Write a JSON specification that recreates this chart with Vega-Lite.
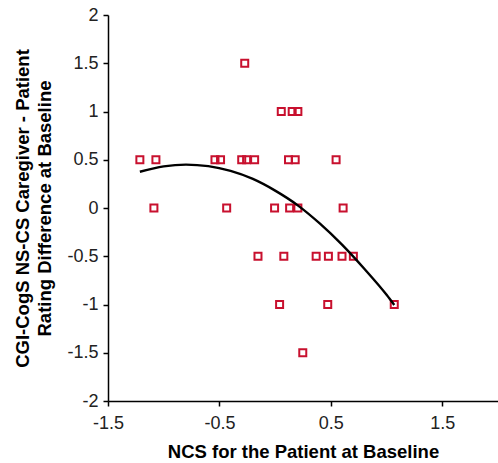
{
  "$schema": "https://vega.github.io/schema/vega-lite/v6.json",
  "width": 390,
  "height": 386,
  "autosize": {"type": "none"},
  "padding": {"left": 108, "top": 15, "right": 0, "bottom": 62},
  "background": "white",
  "config": {
    "view": {"stroke": null},
    "font": "Liberation Sans",
    "axis": {
      "grid": false,
      "labelFlush": false,
      "labelOverlap": false,
      "domainColor": "#000000",
      "domainWidth": 1.5,
      "tickColor": "#000000",
      "tickWidth": 1.5,
      "tickSize": 5,
      "labelFont": "Liberation Sans",
      "labelFontSize": 18,
      "labelColor": "#222222",
      "titleFont": "Liberation Sans",
      "titleFontSize": 18.5,
      "titleFontWeight": "bold",
      "titleColor": "#000000"
    }
  },
  "datasets": {
    "points": [
      {"ncs": -1.214, "diff": 0.5},
      {"ncs": -1.07, "diff": 0.5},
      {"ncs": -1.088, "diff": 0},
      {"ncs": -0.54, "diff": 0.5},
      {"ncs": -0.49, "diff": 0.5},
      {"ncs": -0.435, "diff": 0},
      {"ncs": -0.273, "diff": 1.5},
      {"ncs": -0.30, "diff": 0.5},
      {"ncs": -0.256, "diff": 0.5},
      {"ncs": -0.184, "diff": 0.5},
      {"ncs": 0.055, "diff": 1.0},
      {"ncs": 0.153, "diff": 1.0},
      {"ncs": 0.204, "diff": 1.0},
      {"ncs": 0.12, "diff": 0.5},
      {"ncs": 0.18, "diff": 0.5},
      {"ncs": 0.547, "diff": 0.5},
      {"ncs": -0.005, "diff": 0},
      {"ncs": 0.13, "diff": 0},
      {"ncs": 0.204, "diff": 0},
      {"ncs": 0.61, "diff": 0},
      {"ncs": -0.154, "diff": -0.5},
      {"ncs": 0.078, "diff": -0.5},
      {"ncs": 0.368, "diff": -0.5},
      {"ncs": 0.478, "diff": -0.5},
      {"ncs": 0.60, "diff": -0.5},
      {"ncs": 0.702, "diff": -0.5},
      {"ncs": 0.04, "diff": -1.0},
      {"ncs": 0.472, "diff": -1.0},
      {"ncs": 1.069, "diff": -1.0},
      {"ncs": 0.248, "diff": -1.5}
    ],
    "curve": [
      {"ncs": -1.214, "diff": 0.376},
      {"ncs": -1.0, "diff": 0.432},
      {"ncs": -0.8, "diff": 0.45},
      {"ncs": -0.6, "diff": 0.434},
      {"ncs": -0.4, "diff": 0.384},
      {"ncs": -0.2, "diff": 0.301},
      {"ncs": 0.0, "diff": 0.18},
      {"ncs": 0.2, "diff": 0.03},
      {"ncs": 0.4, "diff": -0.16},
      {"ncs": 0.6, "diff": -0.38},
      {"ncs": 0.8, "diff": -0.63},
      {"ncs": 1.0, "diff": -0.9},
      {"ncs": 1.069, "diff": -1.005}
    ]
  },
  "layer": [
    {
      "data": {"name": "points"},
      "mark": {"type": "point", "shape": "square", "filled": false, "size": 49, "strokeWidth": 2, "color": "#c8102e", "opacity": 1},
      "encoding": {
        "x": {
          "field": "ncs", "type": "quantitative",
          "scale": {"domain": [-1.5, 2], "nice": false, "zero": false},
          "axis": {"values": [-1.5, -0.5, 0.5, 1.5], "labelExpr": "toString(datum.value)", "labelPadding": 8, "title": "NCS for the Patient at Baseline", "titlePadding": 10}
        },
        "y": {
          "field": "diff", "type": "quantitative",
          "scale": {"domain": [-2, 2], "nice": false, "zero": false},
          "axis": {"values": [-2, -1.5, -1, -0.5, 0, 0.5, 1, 1.5, 2], "labelExpr": "toString(datum.value)", "labelPadding": 5, "title": ["CGI-CogS NS-CS Caregiver - Patient", "Rating Difference at Baseline"], "titlePadding": 12, "titleLineHeight": 22}
        }
      }
    },
    {
      "data": {"name": "curve"},
      "mark": {"type": "line", "color": "#000000", "strokeWidth": 2.4, "interpolate": "monotone"},
      "encoding": {
        "x": {"field": "ncs", "type": "quantitative"},
        "y": {"field": "diff", "type": "quantitative"}
      }
    }
  ]
}
